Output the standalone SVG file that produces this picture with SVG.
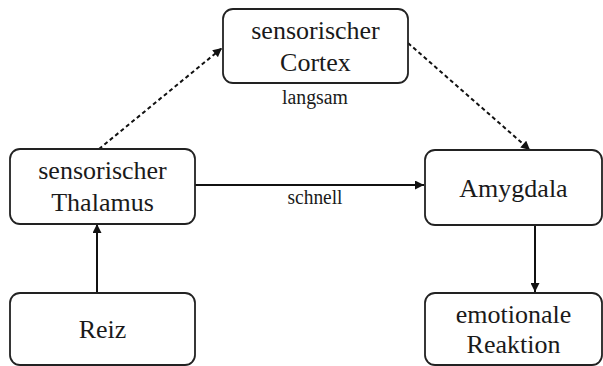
<svg xmlns="http://www.w3.org/2000/svg" width="603" height="366" viewBox="0 0 603 366">
<defs>
<style>
.box{fill:#fff;stroke:#222;stroke-width:1.8}
.t{font-family:"Liberation Serif","Times New Roman",serif;font-size:26px;fill:#1a1a1a;text-anchor:middle}
.l{font-family:"Liberation Serif","Times New Roman",serif;font-size:20px;fill:#1a1a1a;text-anchor:middle}
.c{stroke:#111;stroke-width:2;fill:none}
.d{stroke-dasharray:4 3}
</style>
<marker id="ah" viewBox="0 0 10 10" refX="10" refY="5" markerWidth="10" markerHeight="9" markerUnits="userSpaceOnUse" orient="auto">
<path d="M0,0 L10,5 L0,10 Z" fill="#111"/>
</marker>
</defs>
<rect width="603" height="366" fill="#fff"/>
<g id="connectors">
<line class="c d" x1="99" y1="149" x2="222" y2="48" marker-end="url(#ah)"/>
<line class="c d" x1="408" y1="43" x2="530" y2="150" marker-end="url(#ah)"/>
<line class="c" x1="195" y1="185" x2="424" y2="185" marker-end="url(#ah)"/>
<line class="c" x1="97" y1="293" x2="97" y2="224" marker-end="url(#ah)"/>
<line class="c" x1="535" y1="225" x2="535" y2="292" marker-end="url(#ah)"/>
<text class="l" x="315" y="104" textLength="66" lengthAdjust="spacingAndGlyphs">langsam</text>
<text class="l" x="315" y="204" textLength="55" lengthAdjust="spacingAndGlyphs">schnell</text>
</g>
<g id="cortex">
<rect class="box" x="223" y="9" width="185" height="74" rx="10"/>
<text class="t" x="315.5" y="39">sensorischer</text>
<text class="t" x="315.5" y="71">Cortex</text>
</g>
<g id="thalamus">
<rect class="box" x="10" y="149" width="185" height="75" rx="10"/>
<text class="t" x="102.5" y="179">sensorischer</text>
<text class="t" x="102.5" y="211">Thalamus</text>
</g>
<g id="amygdala">
<rect class="box" x="425" y="150" width="177" height="75" rx="10"/>
<text class="t" x="513.5" y="197">Amygdala</text>
</g>
<g id="reiz">
<rect class="box" x="10" y="293" width="185" height="72" rx="10"/>
<text class="t" x="102.5" y="338">Reiz</text>
</g>
<g id="reaktion">
<rect class="box" x="425" y="293" width="177" height="72" rx="10"/>
<text class="t" x="513.5" y="323">emotionale</text>
<text class="t" x="513.5" y="353">Reaktion</text>
</g>
</svg>
